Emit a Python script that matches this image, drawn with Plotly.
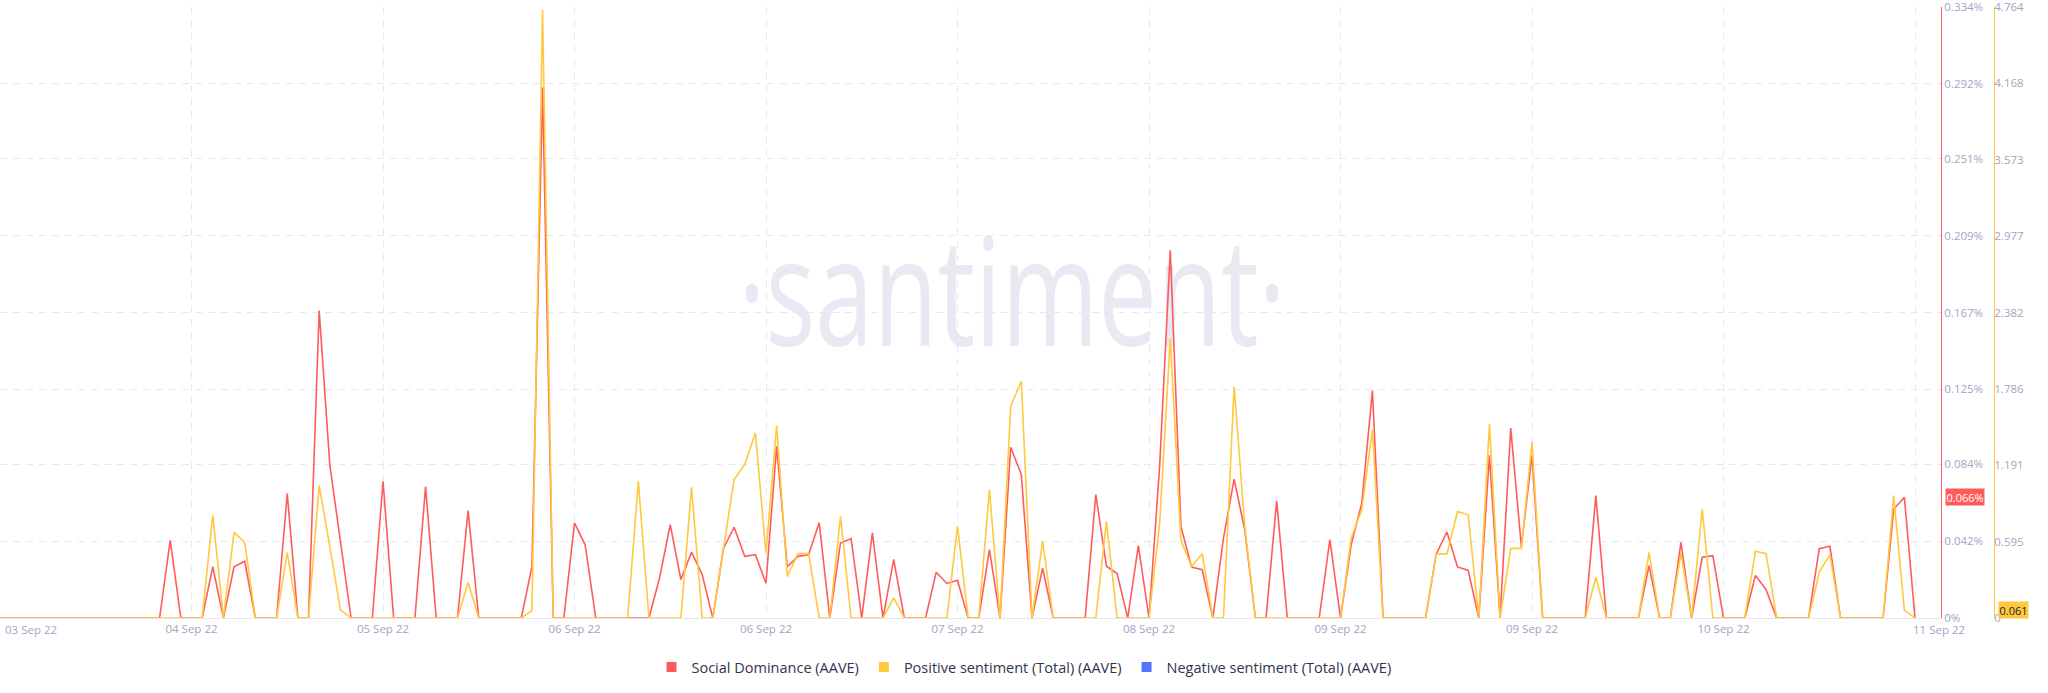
import base64
import pandas as pd
import plotly.graph_objects as go

# ---------------- data (hourly) ----------------
START = "2022-09-03 20:00"

social_dominance = [  # percent
    0, 0, 0, 0, 0, 0, 0, 0, 0, 0,
    0, 0, 0, 0, 0, 0, 0.0424, 0, 0, 0,
    0.028, 0, 0.028, 0.031, 0, 0, 0, 0.068, 0, 0,
    0.168, 0.0837, 0.041, 0, 0, 0, 0.0747, 0, 0, 0,
    0.0718, 0, 0, 0, 0.0587, 0, 0, 0, 0, 0,
    0.028, 0.29, 0, 0, 0.052, 0.040, 0, 0, 0, 0,
    0, 0, 0.022, 0.051, 0.021, 0.036, 0.0237, 0, 0.038, 0.0496,
    0.0337, 0.0346, 0.019, 0.0939, 0.028, 0.0337, 0.0346, 0.052, 0, 0.041,
    0.0434, 0, 0.0465, 0, 0.032, 0, 0, 0, 0.025, 0.0189,
    0.0206, 0, 0, 0.0374, 0, 0.0933, 0.0784, 0, 0.0273, 0,
    0, 0, 0, 0.0675, 0.0283, 0.0243, 0, 0.0396, 0, 0.083,
    0.201, 0.050, 0.0278, 0.0264, 0, 0.0437, 0.0759, 0.0482, 0, 0,
    0.064, 0, 0, 0, 0, 0.0428, 0, 0.040, 0.0628, 0.1243,
    0, 0, 0, 0, 0, 0.035, 0.047, 0.0279, 0.026, 0,
    0.089, 0, 0.1038, 0.039, 0.089, 0, 0, 0, 0, 0,
    0.0669, 0, 0, 0, 0, 0.0286, 0, 0, 0.0414, 0,
    0.0332, 0.0341, 0, 0, 0, 0.0233, 0.0155, 0, 0, 0,
    0, 0.0379, 0.0392, 0, 0, 0, 0, 0, 0.0596, 0.066,
    0,
]

positive_sentiment = [
    0, 0, 0, 0, 0, 0, 0, 0, 0, 0,
    0, 0, 0, 0, 0, 0, 0, 0, 0, 0,
    0.80, 0, 0.668, 0.589, 0, 0, 0, 0.509, 0, 0,
    1.034, 0.557, 0.064, 0, 0, 0, 0, 0, 0, 0,
    0, 0, 0, 0, 0.277, 0, 0, 0, 0, 0,
    0.057, 4.74, 0, 0, 0, 0, 0, 0, 0, 0,
    1.066, 0, 0, 0, 0, 1.019, 0, 0, 0.559, 1.079,
    1.196, 1.443, 0.507, 1.50, 0.325, 0.502, 0.502, 0, 0, 0.793,
    0, 0, 0, 0, 0.156, 0, 0, 0, 0, 0,
    0.715, 0, 0, 1.001, 0, 1.651, 1.846, 0, 0.598, 0,
    0, 0, 0, 0, 0.754, 0, 0, 0, 0, 0.74,
    2.18, 0.605, 0.402, 0.501, 0, 0, 1.805, 0.72, 0, 0,
    0, 0, 0, 0, 0, 0, 0, 0.623, 0.844, 1.467,
    0, 0, 0, 0, 0, 0.50, 0.50, 0.83, 0.805, 0,
    1.51, 0, 0.543, 0.543, 1.373, 0, 0, 0, 0, 0,
    0.318, 0, 0, 0, 0, 0.51, 0, 0, 0.507, 0,
    0.85, 0, 0, 0, 0, 0.52, 0.502, 0, 0, 0,
    0, 0.356, 0.494, 0, 0, 0, 0, 0, 0.954, 0.061,
    0,
]

negative_sentiment = [None]  # not visible in the chart (legend only)

series_names = [
    "Social Dominance (AAVE)",
    "Positive sentiment (Total) (AAVE)",
    "Negative sentiment (Total) (AAVE)",
]

x_tick_labels = ["03 Sep 22", "04 Sep 22", "05 Sep 22", "06 Sep 22", "06 Sep 22",
                 "07 Sep 22", "08 Sep 22", "09 Sep 22", "09 Sep 22", "10 Sep 22",
                 "11 Sep 22"]
TICK_STEP_HOURS = 18

sd_tick_vals = [0, 0.042, 0.084, 0.125, 0.167, 0.209, 0.251, 0.292, 0.334]
sd_tick_text = ["0%", "0.042%", "0.084%", "0.125%", "0.167%", "0.209%", "0.251%",
                "0.292%", "0.334%"]
ps_tick_vals = [0, 0.595, 1.191, 1.786, 2.382, 2.977, 3.573, 4.168, 4.764]
ps_tick_text = ["0", "0.595", "1.191", "1.786", "2.382", "2.977", "3.573", "4.168",
                "4.764"]

# ---------------- style ----------------
RED = "#ff5b5b"
YELLOW = "#ffc83d"
BLUE = "#5275ff"
GRID = "#e6e8f1"
TICK = "#9ea6bf"
FONT = "Open Sans"
W, H = 2048, 693
PLOT_RIGHT = 1941
PLOT_TOP = 7
PLOT_BOTTOM = 618
Y2_POS = 1994

times = pd.date_range(START, periods=len(social_dominance), freq="h")
tick_times = [times[0] + pd.Timedelta(hours=TICK_STEP_HOURS * i)
              for i in range(len(x_tick_labels))]
hours_span = TICK_STEP_HOURS * (len(x_tick_labels) - 1)
x_end = times[0] + pd.Timedelta(hours=hours_span * PLOT_RIGHT / 1915)

fig = go.Figure()

# lines (positive sentiment drawn above social dominance)
fig.add_trace(go.Scatter(x=times, y=social_dominance, mode="lines", yaxis="y",
                         line=dict(color=RED, width=1.6), showlegend=False,
                         name=series_names[0]))
fig.add_trace(go.Scatter(x=times, y=positive_sentiment, mode="lines", yaxis="y2",
                         line=dict(color=YELLOW, width=1.6), showlegend=False,
                         name=series_names[1]))

# legend entries (square markers)
for name, col, ys, ax in [(series_names[0], RED, [None], "y"),
                          (series_names[1], YELLOW, [None], "y2"),
                          (series_names[2], BLUE, negative_sentiment, "y2")]:
    fig.add_trace(go.Scatter(x=[None] * len(ys), y=ys, mode="markers", yaxis=ax,
                             marker=dict(symbol="square", size=10, color=col),
                             name=name, showlegend=True))

# watermark
svg = ('<svg xmlns="http://www.w3.org/2000/svg" width="660" height="200">'
       '<text x="330" y="140" font-family="Open Sans" font-weight="400" font-size="150" '
       'textLength="548" lengthAdjust="spacingAndGlyphs" '
       'fill="#e8e9f2" text-anchor="middle">\u00b7santiment\u00b7</text></svg>')
wm_src = "data:image/svg+xml;base64," + base64.b64encode(svg.encode("utf-8")).decode()
plot_h = PLOT_BOTTOM - PLOT_TOP
fig.add_layout_image(dict(source=wm_src, xref="paper", yref="paper",
                          x=1012 / W, y=(PLOT_BOTTOM - 306) / plot_h,
                          sizex=660 / W, sizey=200 / plot_h, sizing="stretch",
                          xanchor="center", yanchor="middle", layer="below"))

tick_font = dict(family=FONT, size=11.5, color=TICK)

inner_ticktext = [""] + x_tick_labels[1:-1] + [""]

fig.update_layout(
    width=W, height=H,
    margin=dict(l=0, r=0, t=PLOT_TOP, b=H - PLOT_BOTTOM),
    paper_bgcolor="white", plot_bgcolor="rgba(0,0,0,0)",
    font=dict(family=FONT),
    xaxis=dict(domain=[0, PLOT_RIGHT / W], range=[times[0], x_end],
               tickvals=tick_times, ticktext=inner_ticktext, tickfont=tick_font,
               showgrid=True, gridcolor=GRID, griddash="7px,6px", gridwidth=1,
               showline=True, linecolor="#e3e5ee", linewidth=1, ticks="",
               zeroline=False),
    yaxis=dict(range=[0, 0.334], side="right", anchor="x",
               tickvals=sd_tick_vals, ticktext=sd_tick_text, tickfont=tick_font,
               showgrid=True, gridcolor=GRID, griddash="7px,6px", gridwidth=1,
               showline=True, linecolor=RED, linewidth=1, ticks="",
               zeroline=False, ticklabeloverflow="allow"),
    yaxis2=dict(range=[0, 4.764], overlaying="y", side="right", anchor="free",
                position=Y2_POS / W, tickvals=ps_tick_vals, ticktext=ps_tick_text,
                tickfont=tick_font, showgrid=False, showline=True,
                linecolor=YELLOW, linewidth=1, ticks="", zeroline=False,
                ticklabeloverflow="allow", ticklabelstandoff=-3),
    legend=dict(orientation="h", x=0.5, xanchor="center",
                y=(PLOT_BOTTOM - 667) / plot_h, yanchor="middle",
                font=dict(family=FONT, size=14.5, color="#2f354d"),
                bgcolor="rgba(0,0,0,0)"),
    showlegend=True,
)

# first / last date labels (kept inside the chart)
fig.add_annotation(x=tick_times[0], y=0, xref="x", yref="paper", text=x_tick_labels[0],
                   showarrow=False, xanchor="left", yanchor="top", xshift=3, yshift=-2,
                   font=tick_font)
fig.add_annotation(x=tick_times[-1], y=0, xref="x", yref="paper", text=x_tick_labels[-1],
                   showarrow=False, xanchor="left", yanchor="top", xshift=-4, yshift=-2,
                   font=tick_font)

# last-value badges
last_sd = [v for v in social_dominance if v][-1]
last_ps = [v for v in positive_sentiment if v][-1]
fig.add_annotation(x=(PLOT_RIGHT + 4) / W, xref="paper", y=last_sd, yref="y",
                   text=f"{last_sd:.3f}%", showarrow=False, xanchor="left",
                   yanchor="middle", bgcolor=RED, borderpad=0.5,
                   font=dict(family=FONT, size=11, color="white"))
fig.add_annotation(x=(Y2_POS + 4) / W, xref="paper", y=last_ps, yref="y2",
                   text=f"{last_ps:.3f}", showarrow=False, xanchor="left",
                   yanchor="middle", bgcolor=YELLOW, borderpad=0.5,
                   font=dict(family=FONT, size=11, color="#1b1e2b"))

fig.write_html("out.html")
